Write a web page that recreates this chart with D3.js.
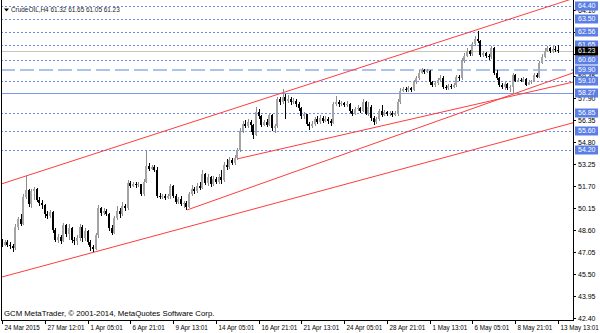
<!DOCTYPE html>
<html>
<head>
<meta charset="utf-8">
<script src="https://cdn.jsdelivr.net/npm/d3@7"></script>
<style>
body { margin: 0; background: #fff; }
svg { display: block; font-family: "Liberation Sans", Arial, sans-serif; }
</style>
</head>
<body>
<div id="chart"></div>
<script>
// CrudeOIL H4 bars, one value per bar
var opens = [
47.70,47.55,47.75,47.50,47.45,47.30,48.80,49.35,49.00,50.90,
51.40,50.40,51.30,51.50,50.70,50.50,50.35,49.70,49.55,49.85,
48.60,47.90,48.10,47.80,48.90,48.30,48.70,47.90,47.80,48.05,
48.80,48.00,48.50,47.70,47.40,47.25,48.20,50.10,49.80,49.95,
49.70,48.70,48.40,49.40,49.90,49.70,50.30,50.10,51.90,51.70,
51.85,51.75,51.80,51.10,52.00,53.10,52.90,53.00,52.85,51.00,
50.95,51.00,50.85,50.95,51.70,51.00,50.55,50.80,50.40,50.50,
50.20,51.10,51.50,51.30,51.70,51.55,52.50,51.90,52.30,51.80,
52.20,51.95,52.30,52.10,53.20,53.00,53.50,53.30,53.70,54.20,
55.60,56.10,55.90,56.20,56.00,55.30,56.90,56.60,56.00,56.20,
56.00,56.70,55.80,55.90,57.80,57.60,58.00,57.70,57.85,57.60,
57.70,57.50,57.20,56.60,56.75,56.10,55.90,56.05,56.40,56.20,
56.50,56.30,56.45,56.30,56.15,57.50,57.60,57.45,57.55,57.40,
57.50,57.00,56.80,57.10,57.20,57.00,57.60,56.80,57.30,56.50,
56.20,56.40,56.95,56.70,56.90,56.75,56.85,56.70,56.80,57.60,
58.40,58.55,58.45,58.60,58.50,59.00,59.30,59.70,59.85,59.75,
59.80,59.00,58.80,58.95,59.20,59.35,58.70,58.60,58.75,58.70,
58.80,59.40,59.30,60.50,60.90,61.20,61.00,61.70,62.10,61.90,
60.95,61.10,60.90,60.80,61.40,59.70,59.30,58.85,58.70,58.90,
58.60,58.70,59.50,59.10,59.20,59.10,59.25,58.85,59.00,59.10,
59.50,59.40,60.40,60.80,61.25,61.40,61.20,61.35,61.32];
var highs = [
47.95,47.90,47.85,47.70,47.60,49.00,49.50,49.70,51.10,52.40,
51.50,51.45,51.65,51.55,50.90,50.70,50.40,49.90,50.00,49.90,
48.70,48.30,48.25,49.10,49.00,49.00,48.80,48.10,48.20,49.00,
48.95,48.70,48.60,47.85,47.55,48.40,50.35,50.20,50.10,50.05,
49.80,48.90,49.60,50.25,50.10,50.55,50.45,52.10,52.05,52.00,
52.00,51.95,51.85,52.20,54.20,53.30,53.15,53.20,53.00,51.20,
51.15,51.10,51.10,51.80,51.75,51.10,50.90,50.95,50.65,50.60,
51.25,51.75,51.65,51.90,52.00,52.85,52.60,52.50,52.40,52.40,
52.35,52.55,52.80,53.40,53.60,53.75,53.65,53.90,54.40,55.80,
56.30,56.35,56.40,56.35,56.10,57.30,57.10,56.70,56.35,56.40,
56.80,56.80,56.10,58.00,57.95,58.55,58.15,58.10,57.95,57.90,
57.80,57.60,57.30,56.90,56.80,56.20,56.25,56.55,56.65,56.70,
56.60,56.65,56.55,56.40,57.65,58.05,57.75,57.70,57.65,57.70,
57.55,57.10,57.25,57.40,57.30,57.80,57.70,57.60,57.40,56.60,
56.55,57.10,57.40,57.05,57.00,56.95,56.95,56.95,57.80,58.60,
58.70,58.65,58.75,58.70,59.15,59.45,59.85,60.00,59.95,59.95,
59.85,59.10,59.10,59.35,59.50,59.45,58.80,58.90,58.90,58.95,
59.55,59.50,60.70,61.10,61.40,61.30,61.85,62.25,62.65,62.00,
61.20,61.15,61.00,61.55,61.50,59.85,59.40,58.95,59.00,58.95,
58.85,59.70,59.60,59.35,59.30,59.40,59.30,59.15,59.20,59.65,
59.70,60.55,61.00,61.45,61.60,61.50,61.55,61.60,61.65];
var lows = [
47.40,47.45,47.35,47.25,47.05,47.20,48.60,48.85,48.90,50.80,
50.20,50.10,50.70,50.55,50.30,50.05,49.45,49.35,49.40,48.40,
47.70,47.65,47.60,47.70,48.10,47.90,47.65,47.55,47.55,47.80,
47.70,47.80,47.50,47.10,47.00,47.15,48.00,49.60,49.65,49.55,
48.50,48.25,48.30,49.30,49.45,49.60,49.90,50.00,51.55,51.60,
51.55,51.60,50.95,50.95,51.90,52.75,52.80,52.70,50.85,50.80,
50.75,50.70,50.75,50.80,50.85,50.40,50.40,50.25,50.15,50.00,
50.10,51.00,51.15,51.20,51.40,51.45,51.75,51.70,51.65,51.70,
51.80,51.85,51.80,52.00,52.85,52.90,53.20,53.20,53.50,54.10,
55.45,55.80,55.75,55.50,55.00,55.20,56.40,55.85,55.90,55.85,
55.90,55.60,55.40,55.80,57.40,57.50,56.40,57.55,57.40,57.45,
57.30,57.00,56.45,56.45,55.95,55.65,55.80,55.95,56.05,56.10,
56.15,56.20,56.10,55.90,56.05,57.35,57.30,57.35,57.25,57.30,
56.85,56.60,56.70,56.95,56.85,56.90,56.70,56.65,56.30,56.00,
56.05,56.30,56.55,56.60,56.60,56.65,56.55,56.60,56.65,57.50,
58.30,58.30,58.35,58.35,58.40,58.90,59.20,59.60,59.60,59.65,
58.85,58.65,58.70,58.85,59.05,58.55,58.45,58.50,58.55,58.60,
58.70,59.10,59.20,60.40,60.80,60.85,60.90,61.60,61.80,60.80,
60.80,60.75,60.60,60.65,59.55,59.15,58.70,58.55,58.50,58.45,
58.35,58.20,59.00,59.05,59.00,59.00,58.75,58.80,58.90,59.00,
59.30,59.30,60.30,60.70,61.15,61.05,61.10,61.15,61.05];
var closes = [
47.55,47.75,47.50,47.45,47.30,48.80,49.35,49.00,50.90,51.40,
50.40,51.30,51.50,50.70,50.50,50.35,49.70,49.55,49.85,48.60,
47.90,48.10,47.80,48.90,48.30,48.70,47.90,47.80,48.05,48.80,
48.00,48.50,47.70,47.40,47.25,48.20,50.10,49.80,49.95,49.70,
48.70,48.40,49.40,49.90,49.70,50.30,50.10,51.90,51.70,51.85,
51.75,51.80,51.10,52.00,53.10,52.90,53.00,52.85,51.00,50.95,
51.00,50.85,50.95,51.70,51.00,50.55,50.80,50.40,50.50,50.20,
51.10,51.50,51.30,51.70,51.55,52.50,51.90,52.30,51.80,52.20,
51.95,52.30,52.10,53.20,53.00,53.50,53.30,53.70,54.20,55.60,
56.10,55.90,56.20,56.00,55.30,56.90,56.60,56.00,56.20,56.00,
56.70,55.80,55.90,57.80,57.60,58.00,57.70,57.85,57.60,57.70,
57.50,57.20,56.60,56.75,56.10,55.90,56.05,56.40,56.20,56.50,
56.30,56.45,56.30,56.15,57.50,57.60,57.45,57.55,57.40,57.50,
57.00,56.80,57.10,57.20,57.00,57.60,56.80,57.30,56.50,56.20,
56.40,56.95,56.70,56.90,56.75,56.85,56.70,56.80,57.60,58.40,
58.55,58.45,58.60,58.50,59.00,59.30,59.70,59.85,59.75,59.80,
59.00,58.80,58.95,59.20,59.35,58.70,58.60,58.75,58.70,58.80,
59.40,59.30,60.50,60.90,61.20,61.00,61.70,62.10,61.90,60.95,
61.10,60.90,60.80,61.40,59.70,59.30,58.85,58.70,58.90,58.60,
58.70,59.50,59.10,59.20,59.10,59.25,58.85,59.00,59.10,59.50,
59.40,60.40,60.80,61.25,61.40,61.20,61.35,61.32,61.23];

// time axis: a label every 16 bars
var timeLabels = ["24 Mar 2015","27 Mar 12:01","1 Apr 05:01","6 Apr 21:01","9 Apr 13:01",
  "14 Apr 05:01","16 Apr 21:01","21 Apr 13:01","24 Apr 05:01","28 Apr 21:01",
  "1 May 13:01","6 May 05:01","8 May 21:01","13 May 13:01"];
var priceTicks = ["42.40","43.95","45.50","47.05","48.60","50.15","51.70","53.25",
  "54.80","56.35","57.90","59.45","61.00","62.55","64.10"];

// drawn objects
var dottedLevels = [64.40, 63.50, 62.56, 61.65, 60.60, 59.10, 56.85, 55.60, 54.20];
var dashedLevels = [59.90];
var solidLevels = [58.27];
var bidPrice = 61.23;
// trend lines: [bar, price] anchors, extended to the right edge
var trendLines = [
  [[-0.4, 51.82], [183, 63.05]],
  [[-0.4, 45.24], [213, 56.12]],
  [[69.3, 50.00], [164, 56.35]],
  [[88, 53.60], [213, 59.00]]
];
var title = "CrudeOIL,H4 61.32 61.65 61.05 61.23";
var copyright = "GCM MetaTrader, \u00a9 2001-2014, MetaQuotes Software Corp.";

var width = 600, height = 333;
var plotRight = 573, plotBottom = 320;

var x = d3.scaleLinear().domain([0, closes.length - 1]).range([2, 558]);
var y = d3.scaleLinear().domain([42.40, 64.40]).range([317.5, 6]);

var svg = d3.select("#chart").append("svg")
  .attr("width", width).attr("height", height);

svg.append("rect").attr("width", width).attr("height", height).attr("fill", "#fff");

svg.append("clipPath").attr("id", "plot")
  .append("rect").attr("x", 1).attr("y", 0).attr("width", plotRight - 1).attr("height", plotBottom);

var plot = svg.append("g").attr("clip-path", "url(#plot)");

/* horizontal levels */
plot.selectAll(".dot").data(dottedLevels).enter().append("line")
  .attr("x1", 1).attr("x2", plotRight)
  .attr("y1", function(d) { return Math.round(y(d)) + 0.5; })
  .attr("y2", function(d) { return Math.round(y(d)) + 0.5; })
  .attr("stroke", "#6a8be8").attr("stroke-dasharray", "2,2");

plot.selectAll(".dash").data(dashedLevels).enter().append("line")
  .attr("x1", 1).attr("x2", plotRight)
  .attr("y1", function(d) { return Math.round(y(d)); })
  .attr("y2", function(d) { return Math.round(y(d)); })
  .attr("stroke", "#aec2f2").attr("stroke-width", 2).attr("stroke-dasharray", "14,5");

plot.selectAll(".solid").data(solidLevels).enter().append("line")
  .attr("x1", 1).attr("x2", plotRight)
  .attr("y1", function(d) { return Math.round(y(d)) + 0.5; })
  .attr("y2", function(d) { return Math.round(y(d)) + 0.5; })
  .attr("stroke", "#7d98e8");

plot.append("line")
  .attr("x1", 1).attr("x2", plotRight)
  .attr("y1", Math.round(y(bidPrice)) + 0.5).attr("y2", Math.round(y(bidPrice)) + 0.5)
  .attr("stroke", "#c4c4c4");

/* trend lines */
var edgeBar = x.invert(plotRight + 5);
plot.selectAll(".trend").data(trendLines).enter().append("line")
  .attr("x1", function(d) { return x(d[0][0]); })
  .attr("y1", function(d) { return y(d[0][1]); })
  .attr("x2", x(edgeBar))
  .attr("y2", function(d) {
    var k = (d[1][1] - d[0][1]) / (d[1][0] - d[0][0]);
    return y(d[0][1] + k * (edgeBar - d[0][0]));
  })
  .attr("stroke", "#ff3c3c").attr("stroke-width", 1);

/* candles */
var bars = plot.selectAll(".bar").data(closes).enter().append("g")
  .attr("shape-rendering", "crispEdges");
bars.append("rect")
  .attr("x", function(d, i) { return Math.round(x(i)); })
  .attr("width", 1)
  .attr("y", function(d, i) { return y(highs[i]); })
  .attr("height", function(d, i) { return Math.max(1, y(lows[i]) - y(highs[i])); })
  .attr("fill", function(d, i) { return d >= opens[i] ? "#8c8c8c" : "#000"; });
bars.append("rect")
  .attr("x", function(d, i) { return Math.round(x(i)) - 1; })
  .attr("width", 2)
  .attr("y", function(d, i) { return y(Math.max(d, opens[i])); })
  .attr("height", function(d, i) { return Math.max(1, Math.abs(y(d) - y(opens[i]))); })
  .attr("fill", function(d, i) { return d >= opens[i] ? "#a4a4a4" : "#000"; });

/* frame */
svg.append("path")
  .attr("d", "M1.5,0V" + (plotBottom + 0.5) + "H" + (plotRight + 0.5) + "V0")
  .attr("fill", "none").attr("stroke", "#000").attr("shape-rendering", "crispEdges");

/* price axis */
var pa = svg.append("g").attr("font-size", "7px").attr("fill", "#000");
priceTicks.forEach(function(t) {
  var yy = Math.round(y(+t)) + 0.5;
  pa.append("line").attr("x1", plotRight).attr("x2", plotRight + 3)
    .attr("y1", yy).attr("y2", yy).attr("stroke", "#000");
  pa.append("text").attr("x", plotRight + 5).attr("y", yy).attr("dy", "0.35em").text(t);
});

function levelLabel(v, bg) {
  var yy = Math.round(y(v));
  pa.append("rect").attr("x", plotRight + 2).attr("y", yy - 4.5)
    .attr("width", 23).attr("height", 9).attr("fill", bg);
  pa.append("text").attr("x", plotRight + 5).attr("y", yy).attr("dy", "0.35em")
    .attr("fill", "#fff").text(v.toFixed(2));
}
dottedLevels.concat(dashedLevels, solidLevels).forEach(function(v) { levelLabel(v, "#5a7ee6"); });
levelLabel(bidPrice, "#000");

/* time axis */
var ta = svg.append("g").attr("font-size", "6.3px").attr("fill", "#000");
timeLabels.forEach(function(t, k) {
  var xx = Math.round(x(k * 16)) + 0.5;
  ta.append("line").attr("x1", xx).attr("x2", xx)
    .attr("y1", plotBottom).attr("y2", plotBottom + 4).attr("stroke", "#000");
  ta.append("text").attr("x", xx + 2).attr("y", plotBottom + 9.5).text(t);
});

/* title and copyright */
svg.append("path").attr("d", "M4,8.5h5l-2.5,3z").attr("fill", "#000");
svg.append("text").attr("x", 11).attr("y", 12).attr("font-size", "6.4px").attr("fill", "#222").text(title);
svg.append("text").attr("x", 4).attr("y", 315.5).attr("font-size", "7.8px").attr("fill", "#000").text(copyright);
</script>
</body>
</html>
